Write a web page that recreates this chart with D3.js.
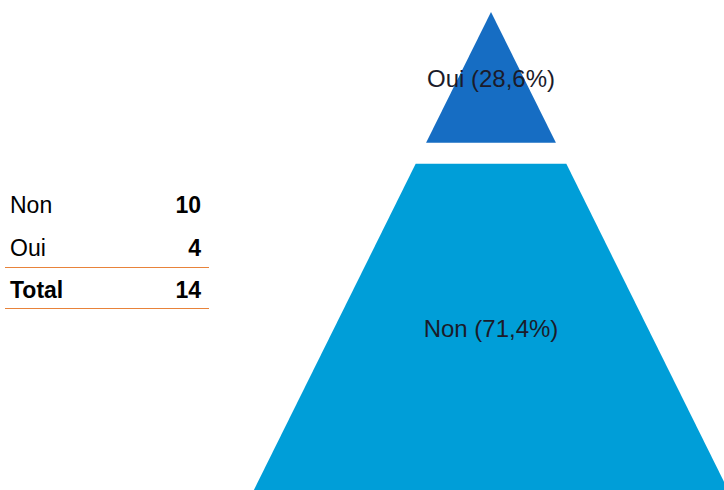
<!DOCTYPE html>
<html>
<head>
<meta charset="utf-8">
<script src="https://cdn.jsdelivr.net/npm/d3@7"></script>
<style>
  body { margin: 0; background: #fff; }
  svg { display: block; font-family: "Liberation Sans", Arial, sans-serif; }
</style>
</head>
<body>
<div id="chart"></div>
<script>
// Data
const categories = ["Non", "Oui"];
const values = [10, 4];
const totalLabel = "Total";

const width = 724;
const height = 490;

const total = d3.sum(values);
const fmtPct = v => d3.format(".1f")(v * 100).replace(".", ",") + "%";

const svg = d3.select("#chart")
    .append("svg")
    .attr("width", width)
    .attr("height", height);

// Pyramid geometry
const apexY = 12, baseY = 491, gap = 21, cx = 491, baseHalf = 237.6;
// smallest on top
const order = d3.range(categories.length).sort((a, b) => values[a] - values[b]);
const yScale = d3.scaleLinear()
    .domain([0, total])
    .range([apexY, baseY - gap * (order.length - 1)]);
const halfW = d3.scaleLinear().domain([apexY, baseY]).range([0, baseHalf]);
const colors = d3.scaleOrdinal().domain(["Oui", "Non"]).range(["#166dc3", "#009ed8"]);

let cum = 0;
const segs = order.map((idx, i) => {
    const y0 = yScale(cum) + i * gap;
    cum += values[idx];
    const y1 = yScale(cum) + i * gap;
    return { name: categories[idx], value: values[idx], y0, y1 };
});

svg.selectAll(".seg")
    .data(segs)
    .enter().append("path")
    .attr("class", "seg")
    .attr("d", d => {
        const a = halfW(d.y0), b = halfW(d.y1);
        return `M${cx - a},${d.y0}L${cx + a},${d.y0}L${cx + b},${d.y1}L${cx - b},${d.y1}Z`;
    })
    .attr("fill", d => colors(d.name));

svg.selectAll(".seglabel")
    .data(segs)
    .enter().append("text")
    .attr("x", cx)
    .attr("y", d => (d.y0 + d.y1) / 2)
    .attr("dy", "0.38em")
    .attr("text-anchor", "middle")
    .style("font-size", "24px")
    .attr("fill", "#1b1b2a")
    .text(d => `${d.name} (${fmtPct(d.value / total)})`);

// Table on the left
const rowY = d3.scalePoint().domain([...categories, totalLabel]).range([213, 298]);
const rows = categories.map((c, i) => ({ name: c, value: values[i], bold: false }))
    .concat([{ name: totalLabel, value: total, bold: true }]);

svg.selectAll(".rowname")
    .data(rows)
    .enter().append("text")
    .attr("x", 10)
    .attr("y", d => rowY(d.name))
    .style("font-size", "23px")
    .style("font-weight", d => d.bold ? "bold" : "normal")
    .attr("fill", "#000")
    .text(d => d.name);

svg.selectAll(".rowval")
    .data(rows)
    .enter().append("text")
    .attr("x", 201)
    .attr("y", d => rowY(d.name))
    .attr("text-anchor", "end")
    .style("font-size", "23px")
    .style("font-weight", "bold")
    .attr("fill", "#000")
    .text(d => d.value);

[267.5, 308.5].forEach(y => {
    svg.append("line")
        .attr("x1", 5).attr("x2", 209)
        .attr("y1", y).attr("y2", y)
        .attr("stroke", "#e8833a")
        .attr("stroke-width", 1);
});
</script>
</body>
</html>
